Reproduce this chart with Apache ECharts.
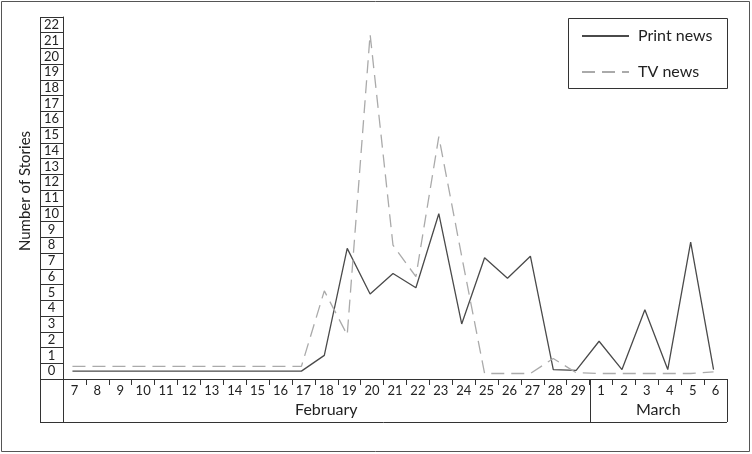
<!DOCTYPE html>
<html>
<head>
<meta charset="utf-8">
<script src="https://cdn.jsdelivr.net/npm/echarts@6/dist/echarts.min.js"></script>
<style>
html,body{margin:0;padding:0;background:#fff;}
#c{width:752px;height:454px;}
</style>
</head>
<body>
<div id="c"></div>
<script>
// ---- data ----
const days = ['7','8','9','10','11','12','13','14','15','16','17','18','19','20','21','22','23','24','25','26','27','28','29','1','2','3','4','5','6'];
const monthNames = ['February', 'March'];
const monthSpans = [23, 6];
const yTickLabels = ['0','1','2','3','4','5','6','7','8','9','10','11','12','13','14','15','16','17','18','19','20','21','22'];
const seriesNames = ['Print news', 'TV news'];
const printNews = [0,0,0,0,0,0,0,0,0,0,0,1.0,7.8,4.9,6.2,5.3,10,3.0,7.2,5.9,7.3,0.1,0.05,1.9,0.1,3.9,0.1,8.2,0.1];
const tvNews = [0.3,0.3,0.3,0.3,0.3,0.3,0.3,0.3,0.3,0.3,0.3,5.1,2.3,21.4,8.0,6.0,14.9,7.3,-0.15,-0.15,-0.15,0.8,-0.1,-0.15,-0.15,-0.15,-0.15,-0.15,-0.05];

// ---- layout ----
const FONT = 'Lato';
const L = 63, T = 17, R = 727, B = 379;
const colL = 40, tableBottom = 422;
const cellW = (R - L) / days.length;
const lineCol = '#333';

const chart = echarts.init(document.getElementById('c'), null, {renderer: 'canvas'});

const graphics = [];
function hline(x1, x2, y) { graphics.push({type:'line', shape:{x1:x1, y1:y, x2:x2, y2:y}, style:{stroke:lineCol, lineWidth:1}, silent:true}); }
function vline(x, y1, y2) { graphics.push({type:'line', shape:{x1:x, y1:y1, x2:x, y2:y2}, style:{stroke:lineCol, lineWidth:1}, silent:true}); }

// outer frame
graphics.push({type:'rect', shape:{x:1.5, y:1.5, width:748, height:450}, style:{fill:null, stroke:'#555', lineWidth:1}, silent:true});
// table frame
vline(colL + 0.5, T, tableBottom);
vline(L + 0.5, B, tableBottom);
hline(colL, R, tableBottom + 0.5);
vline(R + 0.5, B, tableBottom);
// month dividers and labels
let acc = 0;
monthNames.forEach(function (m, k) {
  const x0 = L + acc * cellW;
  acc += monthSpans[k];
  const x1 = L + acc * cellW;
  if (k < monthNames.length - 1) vline(Math.round(x1) + 0.5, B, tableBottom);
  graphics.push({type:'text', x:(x0 + x1) / 2, y:410, style:{text:m, font:'16px ' + FONT, fill:'#222', textAlign:'center', textVerticalAlign:'middle'}, silent:true});
});
// y-axis name
graphics.push({type:'text', x:25, y:191, rotation:Math.PI / 2, style:{text:'Number of Stories', font:'15px ' + FONT, fill:'#222', textAlign:'center', textVerticalAlign:'middle'}, silent:true});
// legend box
graphics.push({type:'rect', shape:{x:568.5, y:18.5, width:159, height:70}, style:{fill:null, stroke:lineCol, lineWidth:1}, silent:true});

const option = {
  animation: false,
  backgroundColor: '#fff',
  grid: {left: L, top: T, right: 752 - R, bottom: 454 - B, containLabel: false},
  legend: {
    data: seriesNames,
    orient: 'vertical',
    left: 581, top: 28,
    padding: 0,
    itemWidth: 47, itemHeight: 14, itemGap: 20,
    itemStyle: {opacity: 0},
    textStyle: {fontSize: 16, fontFamily: FONT, color: '#222', padding: [0, 0, 0, 4]}
  },
  xAxis: [
    {
      type: 'category', data: days, boundaryGap: true, position: 'bottom',
      axisLine: {show: true, onZero: false, lineStyle: {color: lineCol, width: 1}},
      axisTick: {show: true, interval: 0, length: 6, lineStyle: {color: lineCol}},
      axisLabel: {interval: 0, margin: 5, fontSize: 13, fontFamily: FONT, color: '#222'},
      splitLine: {show: false}
    },
    {type: 'value', min: -0.413, max: 28.587, show: false}
  ],
  yAxis: [
    {type: 'value', min: -0.5, max: 22.5, show: false},
    {
      type: 'category', data: yTickLabels, boundaryGap: true, position: 'left',
      axisLine: {show: true, onZero: false, lineStyle: {color: lineCol, width: 1}},
      axisTick: {show: true, interval: 0, length: 23, lineStyle: {color: lineCol}},
      axisLabel: {interval: 0, margin: 11.5, align: 'center', fontSize: 13, fontFamily: FONT, color: '#222'},
      splitLine: {show: false}
    }
  ],
  graphic: graphics,
  series: [
    {
      name: seriesNames[0], type: 'line', xAxisIndex: 1, yAxisIndex: 0,
      data: printNews.map(function (v, i) { return [i, v]; }),
      symbol: 'none', color: '#4a4a4a',
      lineStyle: {color: '#4a4a4a', width: 1.3, type: 'solid'}
    },
    {
      name: seriesNames[1], type: 'line', xAxisIndex: 1, yAxisIndex: 0,
      data: tvNews.map(function (v, i) { return [i, v]; }),
      symbol: 'none', color: '#aaaaaa',
      lineStyle: {color: '#aaaaaa', width: 1.3, type: [13, 7]}
    }
  ]
};
chart.setOption(option);
</script>
</body>
</html>
